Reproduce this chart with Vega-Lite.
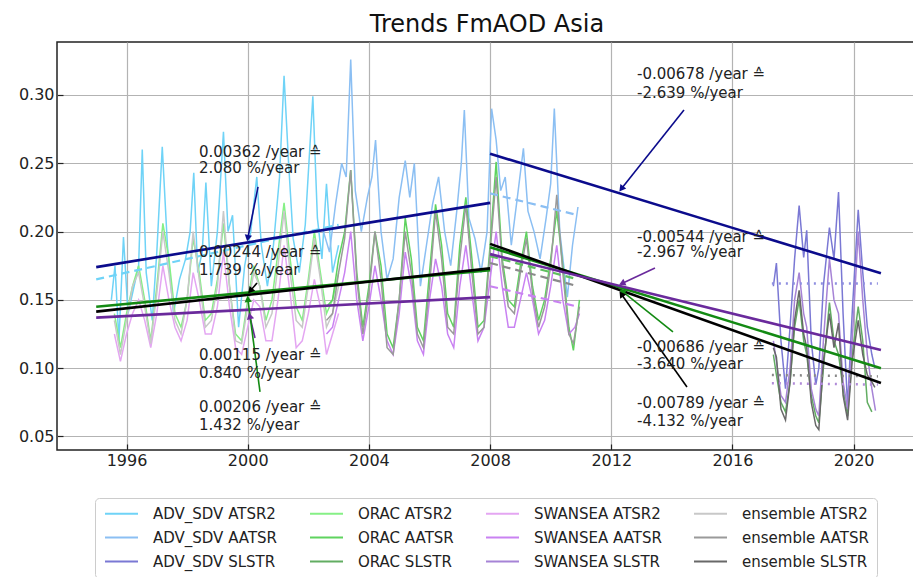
{
"$schema": "https://vega.github.io/schema/vega-lite/v6.json",
"width": 860, "height": 408,
"autosize": {"type": "none"},
"padding": {"left": 57, "top": 42, "right": 0, "bottom": 127},
"title": {"text": "Trends FmAOD Asia", "fontSize": 24, "font": "DejaVu Sans", "fontWeight": "normal", "color": "#111", "anchor": "middle", "offset": -14, "baseline": "alphabetic"},
"config": {
  "view": {"stroke": "#222", "strokeWidth": 1.5},
  "font": "DejaVu Sans",
  "axis": {"grid": true, "gridColor": "#b3b3b3", "gridWidth": 1.2, "domain": false, "tickColor": "#222", "tickSize": -6, "tickWidth": 1.2, "labelFontSize": 16, "labelColor": "#222", "labelFont": "DejaVu Sans", "title": null},
  "axisX": {"labelPadding": 8},
  "axisY": {"labelPadding": 9}
},
"datasets": {
"series": [
{"s":"ADV_SDV ATSR2","t":1995.50,"v":0.150},{"s":"ADV_SDV ATSR2","t":1995.62,"v":0.175},{"s":"ADV_SDV ATSR2","t":1995.75,"v":0.120},{"s":"ADV_SDV ATSR2","t":1995.90,"v":0.196},{"s":"ADV_SDV ATSR2","t":1996.05,"v":0.140},{"s":"ADV_SDV ATSR2","t":1996.25,"v":0.160},{"s":"ADV_SDV ATSR2","t":1996.40,"v":0.175},{"s":"ADV_SDV ATSR2","t":1996.52,"v":0.260},{"s":"ADV_SDV ATSR2","t":1996.65,"v":0.170},{"s":"ADV_SDV ATSR2","t":1996.85,"v":0.135},{"s":"ADV_SDV ATSR2","t":1997.00,"v":0.185},{"s":"ADV_SDV ATSR2","t":1997.18,"v":0.262},{"s":"ADV_SDV ATSR2","t":1997.35,"v":0.190},{"s":"ADV_SDV ATSR2","t":1997.55,"v":0.140},{"s":"ADV_SDV ATSR2","t":1997.75,"v":0.165},{"s":"ADV_SDV ATSR2","t":1997.95,"v":0.180},{"s":"ADV_SDV ATSR2","t":1998.10,"v":0.200},{"s":"ADV_SDV ATSR2","t":1998.22,"v":0.243},{"s":"ADV_SDV ATSR2","t":1998.35,"v":0.170},{"s":"ADV_SDV ATSR2","t":1998.50,"v":0.185},{"s":"ADV_SDV ATSR2","t":1998.62,"v":0.236},{"s":"ADV_SDV ATSR2","t":1998.80,"v":0.160},{"s":"ADV_SDV ATSR2","t":1999.00,"v":0.200},{"s":"ADV_SDV ATSR2","t":1999.20,"v":0.273},{"s":"ADV_SDV ATSR2","t":1999.35,"v":0.200},{"s":"ADV_SDV ATSR2","t":1999.50,"v":0.212},{"s":"ADV_SDV ATSR2","t":1999.70,"v":0.130},{"s":"ADV_SDV ATSR2","t":1999.90,"v":0.175},{"s":"ADV_SDV ATSR2","t":2000.10,"v":0.200},{"s":"ADV_SDV ATSR2","t":2000.30,"v":0.240},{"s":"ADV_SDV ATSR2","t":2000.45,"v":0.190},{"s":"ADV_SDV ATSR2","t":2000.65,"v":0.160},{"s":"ADV_SDV ATSR2","t":2000.85,"v":0.190},{"s":"ADV_SDV ATSR2","t":2001.05,"v":0.240},{"s":"ADV_SDV ATSR2","t":2001.20,"v":0.314},{"s":"ADV_SDV ATSR2","t":2001.35,"v":0.250},{"s":"ADV_SDV ATSR2","t":2001.50,"v":0.195},{"s":"ADV_SDV ATSR2","t":2001.70,"v":0.170},{"s":"ADV_SDV ATSR2","t":2001.90,"v":0.205},{"s":"ADV_SDV ATSR2","t":2002.15,"v":0.299},{"s":"ADV_SDV ATSR2","t":2002.30,"v":0.210},{"s":"ADV_SDV ATSR2","t":2002.45,"v":0.180},{"s":"ADV_SDV ATSR2","t":2002.60,"v":0.235},{"s":"ADV_SDV ATSR2","t":2002.80,"v":0.170},{"s":"ADV_SDV ATSR2","t":2003.00,"v":0.190},
{"s":"ADV_SDV AATSR","t":2002.50,"v":0.200},{"s":"ADV_SDV AATSR","t":2002.70,"v":0.185},{"s":"ADV_SDV AATSR","t":2002.90,"v":0.220},{"s":"ADV_SDV AATSR","t":2003.10,"v":0.250},{"s":"ADV_SDV AATSR","t":2003.25,"v":0.240},{"s":"ADV_SDV AATSR","t":2003.40,"v":0.326},{"s":"ADV_SDV AATSR","t":2003.55,"v":0.230},{"s":"ADV_SDV AATSR","t":2003.75,"v":0.200},{"s":"ADV_SDV AATSR","t":2003.95,"v":0.225},{"s":"ADV_SDV AATSR","t":2004.10,"v":0.240},{"s":"ADV_SDV AATSR","t":2004.22,"v":0.267},{"s":"ADV_SDV AATSR","t":2004.40,"v":0.200},{"s":"ADV_SDV AATSR","t":2004.60,"v":0.165},{"s":"ADV_SDV AATSR","t":2004.80,"v":0.180},{"s":"ADV_SDV AATSR","t":2005.00,"v":0.225},{"s":"ADV_SDV AATSR","t":2005.20,"v":0.252},{"s":"ADV_SDV AATSR","t":2005.35,"v":0.225},{"s":"ADV_SDV AATSR","t":2005.50,"v":0.250},{"s":"ADV_SDV AATSR","t":2005.70,"v":0.160},{"s":"ADV_SDV AATSR","t":2005.90,"v":0.190},{"s":"ADV_SDV AATSR","t":2006.10,"v":0.220},{"s":"ADV_SDV AATSR","t":2006.30,"v":0.240},{"s":"ADV_SDV AATSR","t":2006.50,"v":0.200},{"s":"ADV_SDV AATSR","t":2006.70,"v":0.175},{"s":"ADV_SDV AATSR","t":2006.90,"v":0.215},{"s":"ADV_SDV AATSR","t":2007.05,"v":0.250},{"s":"ADV_SDV AATSR","t":2007.15,"v":0.289},{"s":"ADV_SDV AATSR","t":2007.30,"v":0.210},{"s":"ADV_SDV AATSR","t":2007.50,"v":0.195},{"s":"ADV_SDV AATSR","t":2007.70,"v":0.170},{"s":"ADV_SDV AATSR","t":2007.90,"v":0.200},{"s":"ADV_SDV AATSR","t":2008.05,"v":0.290},{"s":"ADV_SDV AATSR","t":2008.20,"v":0.267},{"s":"ADV_SDV AATSR","t":2008.35,"v":0.230},{"s":"ADV_SDV AATSR","t":2008.50,"v":0.240},{"s":"ADV_SDV AATSR","t":2008.70,"v":0.190},{"s":"ADV_SDV AATSR","t":2008.90,"v":0.225},{"s":"ADV_SDV AATSR","t":2009.10,"v":0.261},{"s":"ADV_SDV AATSR","t":2009.25,"v":0.215},{"s":"ADV_SDV AATSR","t":2009.45,"v":0.200},{"s":"ADV_SDV AATSR","t":2009.65,"v":0.180},{"s":"ADV_SDV AATSR","t":2009.85,"v":0.210},{"s":"ADV_SDV AATSR","t":2010.00,"v":0.235},{"s":"ADV_SDV AATSR","t":2010.12,"v":0.290},{"s":"ADV_SDV AATSR","t":2010.30,"v":0.200},{"s":"ADV_SDV AATSR","t":2010.55,"v":0.152},{"s":"ADV_SDV AATSR","t":2010.72,"v":0.190},{"s":"ADV_SDV AATSR","t":2010.90,"v":0.218},
{"s":"ADV_SDV SLSTR","t":2017.35,"v":0.160},{"s":"ADV_SDV SLSTR","t":2017.45,"v":0.177},{"s":"ADV_SDV SLSTR","t":2017.60,"v":0.120},{"s":"ADV_SDV SLSTR","t":2017.75,"v":0.085},{"s":"ADV_SDV SLSTR","t":2017.90,"v":0.130},{"s":"ADV_SDV SLSTR","t":2018.05,"v":0.180},{"s":"ADV_SDV SLSTR","t":2018.20,"v":0.219},{"s":"ADV_SDV SLSTR","t":2018.35,"v":0.181},{"s":"ADV_SDV SLSTR","t":2018.45,"v":0.201},{"s":"ADV_SDV SLSTR","t":2018.60,"v":0.120},{"s":"ADV_SDV SLSTR","t":2018.75,"v":0.088},{"s":"ADV_SDV SLSTR","t":2018.85,"v":0.100},{"s":"ADV_SDV SLSTR","t":2019.00,"v":0.160},{"s":"ADV_SDV SLSTR","t":2019.20,"v":0.203},{"s":"ADV_SDV SLSTR","t":2019.35,"v":0.180},{"s":"ADV_SDV SLSTR","t":2019.50,"v":0.229},{"s":"ADV_SDV SLSTR","t":2019.65,"v":0.140},{"s":"ADV_SDV SLSTR","t":2019.80,"v":0.072},{"s":"ADV_SDV SLSTR","t":2019.95,"v":0.140},{"s":"ADV_SDV SLSTR","t":2020.15,"v":0.216},{"s":"ADV_SDV SLSTR","t":2020.30,"v":0.170},{"s":"ADV_SDV SLSTR","t":2020.45,"v":0.130},{"s":"ADV_SDV SLSTR","t":2020.60,"v":0.110},{"s":"ADV_SDV SLSTR","t":2020.70,"v":0.100},
{"s":"ORAC ATSR2","t":1995.6,"v":0.140},{"s":"ORAC ATSR2","t":1995.8,"v":0.115},{"s":"ORAC ATSR2","t":1996.0,"v":0.140},{"s":"ORAC ATSR2","t":1996.2,"v":0.160},{"s":"ORAC ATSR2","t":1996.4,"v":0.175},{"s":"ORAC ATSR2","t":1996.6,"v":0.150},{"s":"ORAC ATSR2","t":1996.8,"v":0.120},{"s":"ORAC ATSR2","t":1997.0,"v":0.160},{"s":"ORAC ATSR2","t":1997.2,"v":0.206},{"s":"ORAC ATSR2","t":1997.4,"v":0.180},{"s":"ORAC ATSR2","t":1997.6,"v":0.140},{"s":"ORAC ATSR2","t":1997.8,"v":0.130},{"s":"ORAC ATSR2","t":1998.0,"v":0.150},{"s":"ORAC ATSR2","t":1998.2,"v":0.195},{"s":"ORAC ATSR2","t":1998.4,"v":0.170},{"s":"ORAC ATSR2","t":1998.6,"v":0.135},{"s":"ORAC ATSR2","t":1998.8,"v":0.140},{"s":"ORAC ATSR2","t":1999.0,"v":0.165},{"s":"ORAC ATSR2","t":1999.2,"v":0.206},{"s":"ORAC ATSR2","t":1999.4,"v":0.160},{"s":"ORAC ATSR2","t":1999.6,"v":0.125},{"s":"ORAC ATSR2","t":1999.8,"v":0.120},{"s":"ORAC ATSR2","t":2000.0,"v":0.150},{"s":"ORAC ATSR2","t":2000.2,"v":0.175},{"s":"ORAC ATSR2","t":2000.4,"v":0.160},{"s":"ORAC ATSR2","t":2000.6,"v":0.135},{"s":"ORAC ATSR2","t":2000.8,"v":0.150},{"s":"ORAC ATSR2","t":2001.0,"v":0.185},{"s":"ORAC ATSR2","t":2001.2,"v":0.221},{"s":"ORAC ATSR2","t":2001.4,"v":0.180},{"s":"ORAC ATSR2","t":2001.6,"v":0.145},{"s":"ORAC ATSR2","t":2001.8,"v":0.135},{"s":"ORAC ATSR2","t":2002.0,"v":0.165},{"s":"ORAC ATSR2","t":2002.2,"v":0.200},{"s":"ORAC ATSR2","t":2002.4,"v":0.170},{"s":"ORAC ATSR2","t":2002.6,"v":0.140},{"s":"ORAC ATSR2","t":2002.8,"v":0.150},{"s":"ORAC ATSR2","t":2003.0,"v":0.170},
{"s":"ORAC AATSR","t":2002.6,"v":0.145},{"s":"ORAC AATSR","t":2002.8,"v":0.150},{"s":"ORAC AATSR","t":2003.0,"v":0.180},{"s":"ORAC AATSR","t":2003.2,"v":0.200},{"s":"ORAC AATSR","t":2003.4,"v":0.245},{"s":"ORAC AATSR","t":2003.6,"v":0.170},{"s":"ORAC AATSR","t":2003.8,"v":0.130},{"s":"ORAC AATSR","t":2004.0,"v":0.160},{"s":"ORAC AATSR","t":2004.2,"v":0.200},{"s":"ORAC AATSR","t":2004.4,"v":0.175},{"s":"ORAC AATSR","t":2004.6,"v":0.125},{"s":"ORAC AATSR","t":2004.8,"v":0.115},{"s":"ORAC AATSR","t":2005.0,"v":0.150},{"s":"ORAC AATSR","t":2005.2,"v":0.210},{"s":"ORAC AATSR","t":2005.4,"v":0.180},{"s":"ORAC AATSR","t":2005.6,"v":0.130},{"s":"ORAC AATSR","t":2005.8,"v":0.120},{"s":"ORAC AATSR","t":2006.0,"v":0.170},{"s":"ORAC AATSR","t":2006.2,"v":0.220},{"s":"ORAC AATSR","t":2006.4,"v":0.190},{"s":"ORAC AATSR","t":2006.6,"v":0.140},{"s":"ORAC AATSR","t":2006.8,"v":0.130},{"s":"ORAC AATSR","t":2007.0,"v":0.190},{"s":"ORAC AATSR","t":2007.2,"v":0.225},{"s":"ORAC AATSR","t":2007.4,"v":0.180},{"s":"ORAC AATSR","t":2007.6,"v":0.130},{"s":"ORAC AATSR","t":2007.8,"v":0.135},{"s":"ORAC AATSR","t":2008.0,"v":0.190},{"s":"ORAC AATSR","t":2008.2,"v":0.251},{"s":"ORAC AATSR","t":2008.4,"v":0.180},{"s":"ORAC AATSR","t":2008.6,"v":0.150},{"s":"ORAC AATSR","t":2008.8,"v":0.145},{"s":"ORAC AATSR","t":2009.0,"v":0.175},{"s":"ORAC AATSR","t":2009.2,"v":0.200},{"s":"ORAC AATSR","t":2009.4,"v":0.160},{"s":"ORAC AATSR","t":2009.6,"v":0.135},{"s":"ORAC AATSR","t":2009.8,"v":0.150},{"s":"ORAC AATSR","t":2010.0,"v":0.180},{"s":"ORAC AATSR","t":2010.2,"v":0.215},{"s":"ORAC AATSR","t":2010.4,"v":0.175},{"s":"ORAC AATSR","t":2010.6,"v":0.130},{"s":"ORAC AATSR","t":2010.75,"v":0.113},{"s":"ORAC AATSR","t":2010.95,"v":0.150},
{"s":"ORAC SLSTR","t":2017.35,"v":0.110},{"s":"ORAC SLSTR","t":2017.45,"v":0.095},{"s":"ORAC SLSTR","t":2017.60,"v":0.075},{"s":"ORAC SLSTR","t":2017.75,"v":0.068},{"s":"ORAC SLSTR","t":2017.90,"v":0.090},{"s":"ORAC SLSTR","t":2018.05,"v":0.130},{"s":"ORAC SLSTR","t":2018.20,"v":0.150},{"s":"ORAC SLSTR","t":2018.35,"v":0.120},{"s":"ORAC SLSTR","t":2018.45,"v":0.110},{"s":"ORAC SLSTR","t":2018.60,"v":0.080},{"s":"ORAC SLSTR","t":2018.75,"v":0.065},{"s":"ORAC SLSTR","t":2018.85,"v":0.060},{"s":"ORAC SLSTR","t":2019.00,"v":0.100},{"s":"ORAC SLSTR","t":2019.20,"v":0.148},{"s":"ORAC SLSTR","t":2019.35,"v":0.120},{"s":"ORAC SLSTR","t":2019.50,"v":0.110},{"s":"ORAC SLSTR","t":2019.65,"v":0.085},{"s":"ORAC SLSTR","t":2019.80,"v":0.065},{"s":"ORAC SLSTR","t":2019.95,"v":0.110},{"s":"ORAC SLSTR","t":2020.15,"v":0.145},{"s":"ORAC SLSTR","t":2020.30,"v":0.120},{"s":"ORAC SLSTR","t":2020.45,"v":0.075},{"s":"ORAC SLSTR","t":2020.60,"v":0.068},
{"s":"SWANSEA ATSR2","t":1995.6,"v":0.125},{"s":"SWANSEA ATSR2","t":1995.8,"v":0.105},{"s":"SWANSEA ATSR2","t":1996.0,"v":0.125},{"s":"SWANSEA ATSR2","t":1996.2,"v":0.140},{"s":"SWANSEA ATSR2","t":1996.4,"v":0.150},{"s":"SWANSEA ATSR2","t":1996.6,"v":0.135},{"s":"SWANSEA ATSR2","t":1996.8,"v":0.115},{"s":"SWANSEA ATSR2","t":1997.0,"v":0.140},{"s":"SWANSEA ATSR2","t":1997.2,"v":0.175},{"s":"SWANSEA ATSR2","t":1997.4,"v":0.150},{"s":"SWANSEA ATSR2","t":1997.6,"v":0.130},{"s":"SWANSEA ATSR2","t":1997.8,"v":0.120},{"s":"SWANSEA ATSR2","t":1998.0,"v":0.135},{"s":"SWANSEA ATSR2","t":1998.2,"v":0.170},{"s":"SWANSEA ATSR2","t":1998.4,"v":0.150},{"s":"SWANSEA ATSR2","t":1998.6,"v":0.125},{"s":"SWANSEA ATSR2","t":1998.8,"v":0.125},{"s":"SWANSEA ATSR2","t":1999.0,"v":0.145},{"s":"SWANSEA ATSR2","t":1999.2,"v":0.185},{"s":"SWANSEA ATSR2","t":1999.4,"v":0.145},{"s":"SWANSEA ATSR2","t":1999.6,"v":0.115},{"s":"SWANSEA ATSR2","t":1999.8,"v":0.110},{"s":"SWANSEA ATSR2","t":2000.0,"v":0.130},{"s":"SWANSEA ATSR2","t":2000.2,"v":0.150},{"s":"SWANSEA ATSR2","t":2000.4,"v":0.145},{"s":"SWANSEA ATSR2","t":2000.6,"v":0.120},{"s":"SWANSEA ATSR2","t":2000.8,"v":0.120},{"s":"SWANSEA ATSR2","t":2001.0,"v":0.150},{"s":"SWANSEA ATSR2","t":2001.2,"v":0.190},{"s":"SWANSEA ATSR2","t":2001.4,"v":0.155},{"s":"SWANSEA ATSR2","t":2001.6,"v":0.115},{"s":"SWANSEA ATSR2","t":2001.8,"v":0.120},{"s":"SWANSEA ATSR2","t":2002.0,"v":0.140},{"s":"SWANSEA ATSR2","t":2002.2,"v":0.165},{"s":"SWANSEA ATSR2","t":2002.4,"v":0.145},{"s":"SWANSEA ATSR2","t":2002.6,"v":0.110},{"s":"SWANSEA ATSR2","t":2002.8,"v":0.125},{"s":"SWANSEA ATSR2","t":2003.0,"v":0.140},
{"s":"SWANSEA AATSR","t":2002.6,"v":0.125},{"s":"SWANSEA AATSR","t":2002.8,"v":0.130},{"s":"SWANSEA AATSR","t":2003.0,"v":0.150},{"s":"SWANSEA AATSR","t":2003.2,"v":0.170},{"s":"SWANSEA AATSR","t":2003.4,"v":0.200},{"s":"SWANSEA AATSR","t":2003.6,"v":0.150},{"s":"SWANSEA AATSR","t":2003.8,"v":0.120},{"s":"SWANSEA AATSR","t":2004.0,"v":0.145},{"s":"SWANSEA AATSR","t":2004.2,"v":0.175},{"s":"SWANSEA AATSR","t":2004.4,"v":0.150},{"s":"SWANSEA AATSR","t":2004.6,"v":0.120},{"s":"SWANSEA AATSR","t":2004.8,"v":0.110},{"s":"SWANSEA AATSR","t":2005.0,"v":0.140},{"s":"SWANSEA AATSR","t":2005.2,"v":0.185},{"s":"SWANSEA AATSR","t":2005.4,"v":0.160},{"s":"SWANSEA AATSR","t":2005.6,"v":0.120},{"s":"SWANSEA AATSR","t":2005.8,"v":0.110},{"s":"SWANSEA AATSR","t":2006.0,"v":0.150},{"s":"SWANSEA AATSR","t":2006.2,"v":0.180},{"s":"SWANSEA AATSR","t":2006.4,"v":0.160},{"s":"SWANSEA AATSR","t":2006.6,"v":0.125},{"s":"SWANSEA AATSR","t":2006.8,"v":0.115},{"s":"SWANSEA AATSR","t":2007.0,"v":0.160},{"s":"SWANSEA AATSR","t":2007.2,"v":0.190},{"s":"SWANSEA AATSR","t":2007.4,"v":0.155},{"s":"SWANSEA AATSR","t":2007.6,"v":0.120},{"s":"SWANSEA AATSR","t":2007.8,"v":0.130},{"s":"SWANSEA AATSR","t":2008.0,"v":0.165},{"s":"SWANSEA AATSR","t":2008.2,"v":0.200},{"s":"SWANSEA AATSR","t":2008.4,"v":0.160},{"s":"SWANSEA AATSR","t":2008.6,"v":0.130},{"s":"SWANSEA AATSR","t":2008.8,"v":0.130},{"s":"SWANSEA AATSR","t":2009.0,"v":0.150},{"s":"SWANSEA AATSR","t":2009.2,"v":0.170},{"s":"SWANSEA AATSR","t":2009.4,"v":0.150},{"s":"SWANSEA AATSR","t":2009.6,"v":0.125},{"s":"SWANSEA AATSR","t":2009.8,"v":0.135},{"s":"SWANSEA AATSR","t":2010.0,"v":0.160},{"s":"SWANSEA AATSR","t":2010.2,"v":0.190},{"s":"SWANSEA AATSR","t":2010.4,"v":0.150},{"s":"SWANSEA AATSR","t":2010.6,"v":0.125},{"s":"SWANSEA AATSR","t":2010.8,"v":0.130},{"s":"SWANSEA AATSR","t":2010.95,"v":0.140},
{"s":"SWANSEA SLSTR","t":2017.35,"v":0.120},{"s":"SWANSEA SLSTR","t":2017.45,"v":0.105},{"s":"SWANSEA SLSTR","t":2017.60,"v":0.080},{"s":"SWANSEA SLSTR","t":2017.75,"v":0.075},{"s":"SWANSEA SLSTR","t":2017.90,"v":0.100},{"s":"SWANSEA SLSTR","t":2018.05,"v":0.150},{"s":"SWANSEA SLSTR","t":2018.20,"v":0.170},{"s":"SWANSEA SLSTR","t":2018.35,"v":0.140},{"s":"SWANSEA SLSTR","t":2018.45,"v":0.130},{"s":"SWANSEA SLSTR","t":2018.60,"v":0.085},{"s":"SWANSEA SLSTR","t":2018.75,"v":0.070},{"s":"SWANSEA SLSTR","t":2018.85,"v":0.065},{"s":"SWANSEA SLSTR","t":2019.00,"v":0.120},{"s":"SWANSEA SLSTR","t":2019.20,"v":0.180},{"s":"SWANSEA SLSTR","t":2019.35,"v":0.150},{"s":"SWANSEA SLSTR","t":2019.50,"v":0.140},{"s":"SWANSEA SLSTR","t":2019.65,"v":0.090},{"s":"SWANSEA SLSTR","t":2019.80,"v":0.070},{"s":"SWANSEA SLSTR","t":2019.95,"v":0.120},{"s":"SWANSEA SLSTR","t":2020.15,"v":0.200},{"s":"SWANSEA SLSTR","t":2020.30,"v":0.150},{"s":"SWANSEA SLSTR","t":2020.45,"v":0.110},{"s":"SWANSEA SLSTR","t":2020.60,"v":0.085},{"s":"SWANSEA SLSTR","t":2020.72,"v":0.069},
{"s":"ensemble ATSR2","t":1995.6,"v":0.135},{"s":"ensemble ATSR2","t":1995.8,"v":0.110},{"s":"ensemble ATSR2","t":1996.0,"v":0.135},{"s":"ensemble ATSR2","t":1996.2,"v":0.160},{"s":"ensemble ATSR2","t":1996.4,"v":0.170},{"s":"ensemble ATSR2","t":1996.6,"v":0.145},{"s":"ensemble ATSR2","t":1996.8,"v":0.118},{"s":"ensemble ATSR2","t":1997.0,"v":0.155},{"s":"ensemble ATSR2","t":1997.2,"v":0.200},{"s":"ensemble ATSR2","t":1997.4,"v":0.170},{"s":"ensemble ATSR2","t":1997.6,"v":0.135},{"s":"ensemble ATSR2","t":1997.8,"v":0.125},{"s":"ensemble ATSR2","t":1998.0,"v":0.150},{"s":"ensemble ATSR2","t":1998.2,"v":0.200},{"s":"ensemble ATSR2","t":1998.4,"v":0.165},{"s":"ensemble ATSR2","t":1998.6,"v":0.130},{"s":"ensemble ATSR2","t":1998.8,"v":0.135},{"s":"ensemble ATSR2","t":1999.0,"v":0.160},{"s":"ensemble ATSR2","t":1999.2,"v":0.215},{"s":"ensemble ATSR2","t":1999.4,"v":0.160},{"s":"ensemble ATSR2","t":1999.6,"v":0.120},{"s":"ensemble ATSR2","t":1999.8,"v":0.118},{"s":"ensemble ATSR2","t":2000.0,"v":0.145},{"s":"ensemble ATSR2","t":2000.2,"v":0.170},{"s":"ensemble ATSR2","t":2000.4,"v":0.160},{"s":"ensemble ATSR2","t":2000.6,"v":0.130},{"s":"ensemble ATSR2","t":2000.8,"v":0.140},{"s":"ensemble ATSR2","t":2001.0,"v":0.175},{"s":"ensemble ATSR2","t":2001.2,"v":0.215},{"s":"ensemble ATSR2","t":2001.4,"v":0.170},{"s":"ensemble ATSR2","t":2001.6,"v":0.135},{"s":"ensemble ATSR2","t":2001.8,"v":0.130},{"s":"ensemble ATSR2","t":2002.0,"v":0.160},{"s":"ensemble ATSR2","t":2002.2,"v":0.195},{"s":"ensemble ATSR2","t":2002.4,"v":0.165},{"s":"ensemble ATSR2","t":2002.6,"v":0.130},{"s":"ensemble ATSR2","t":2002.8,"v":0.140},{"s":"ensemble ATSR2","t":2003.0,"v":0.160},
{"s":"ensemble AATSR","t":2002.6,"v":0.135},{"s":"ensemble AATSR","t":2002.8,"v":0.140},{"s":"ensemble AATSR","t":2003.0,"v":0.170},{"s":"ensemble AATSR","t":2003.2,"v":0.195},{"s":"ensemble AATSR","t":2003.4,"v":0.245},{"s":"ensemble AATSR","t":2003.6,"v":0.165},{"s":"ensemble AATSR","t":2003.8,"v":0.125},{"s":"ensemble AATSR","t":2004.0,"v":0.155},{"s":"ensemble AATSR","t":2004.2,"v":0.200},{"s":"ensemble AATSR","t":2004.4,"v":0.165},{"s":"ensemble AATSR","t":2004.6,"v":0.115},{"s":"ensemble AATSR","t":2004.8,"v":0.110},{"s":"ensemble AATSR","t":2005.0,"v":0.150},{"s":"ensemble AATSR","t":2005.2,"v":0.200},{"s":"ensemble AATSR","t":2005.4,"v":0.170},{"s":"ensemble AATSR","t":2005.6,"v":0.125},{"s":"ensemble AATSR","t":2005.8,"v":0.115},{"s":"ensemble AATSR","t":2006.0,"v":0.160},{"s":"ensemble AATSR","t":2006.2,"v":0.215},{"s":"ensemble AATSR","t":2006.4,"v":0.180},{"s":"ensemble AATSR","t":2006.6,"v":0.130},{"s":"ensemble AATSR","t":2006.8,"v":0.125},{"s":"ensemble AATSR","t":2007.0,"v":0.180},{"s":"ensemble AATSR","t":2007.2,"v":0.220},{"s":"ensemble AATSR","t":2007.4,"v":0.170},{"s":"ensemble AATSR","t":2007.6,"v":0.125},{"s":"ensemble AATSR","t":2007.8,"v":0.130},{"s":"ensemble AATSR","t":2008.0,"v":0.185},{"s":"ensemble AATSR","t":2008.2,"v":0.240},{"s":"ensemble AATSR","t":2008.4,"v":0.175},{"s":"ensemble AATSR","t":2008.6,"v":0.145},{"s":"ensemble AATSR","t":2008.8,"v":0.140},{"s":"ensemble AATSR","t":2009.0,"v":0.170},{"s":"ensemble AATSR","t":2009.2,"v":0.195},{"s":"ensemble AATSR","t":2009.4,"v":0.155},{"s":"ensemble AATSR","t":2009.6,"v":0.130},{"s":"ensemble AATSR","t":2009.8,"v":0.145},{"s":"ensemble AATSR","t":2010.0,"v":0.175},{"s":"ensemble AATSR","t":2010.2,"v":0.227},{"s":"ensemble AATSR","t":2010.4,"v":0.170},{"s":"ensemble AATSR","t":2010.6,"v":0.125},{"s":"ensemble AATSR","t":2010.75,"v":0.118},{"s":"ensemble AATSR","t":2010.95,"v":0.145},
{"s":"ensemble SLSTR","t":2017.35,"v":0.115},{"s":"ensemble SLSTR","t":2017.45,"v":0.108},{"s":"ensemble SLSTR","t":2017.60,"v":0.070},{"s":"ensemble SLSTR","t":2017.75,"v":0.062},{"s":"ensemble SLSTR","t":2017.90,"v":0.090},{"s":"ensemble SLSTR","t":2018.05,"v":0.135},{"s":"ensemble SLSTR","t":2018.20,"v":0.157},{"s":"ensemble SLSTR","t":2018.35,"v":0.125},{"s":"ensemble SLSTR","t":2018.45,"v":0.115},{"s":"ensemble SLSTR","t":2018.60,"v":0.075},{"s":"ensemble SLSTR","t":2018.75,"v":0.058},{"s":"ensemble SLSTR","t":2018.85,"v":0.055},{"s":"ensemble SLSTR","t":2019.00,"v":0.105},{"s":"ensemble SLSTR","t":2019.20,"v":0.140},{"s":"ensemble SLSTR","t":2019.35,"v":0.115},{"s":"ensemble SLSTR","t":2019.50,"v":0.133},{"s":"ensemble SLSTR","t":2019.65,"v":0.080},{"s":"ensemble SLSTR","t":2019.80,"v":0.062},{"s":"ensemble SLSTR","t":2019.95,"v":0.105},{"s":"ensemble SLSTR","t":2020.15,"v":0.135},{"s":"ensemble SLSTR","t":2020.30,"v":0.110},{"s":"ensemble SLSTR","t":2020.45,"v":0.095},{"s":"ensemble SLSTR","t":2020.60,"v":0.090},{"s":"ensemble SLSTR","t":2020.70,"v":0.086}
],
"trend": [
{"g":"ADV","p":1,"t":1995.0,"v":0.174},{"g":"ADV","p":1,"t":2008.0,"v":0.221},
{"g":"ADV","p":2,"t":2008.0,"v":0.257},{"g":"ADV","p":2,"t":2020.9,"v":0.1695},
{"g":"ORAC","p":1,"t":1995.0,"v":0.145},{"g":"ORAC","p":1,"t":2008.0,"v":0.1718},
{"g":"ORAC","p":2,"t":2008.0,"v":0.1885},{"g":"ORAC","p":2,"t":2020.9,"v":0.100},
{"g":"ensemble","p":1,"t":1995.0,"v":0.1414},{"g":"ensemble","p":1,"t":2008.0,"v":0.1731},
{"g":"ensemble","p":2,"t":2008.0,"v":0.191},{"g":"ensemble","p":2,"t":2020.9,"v":0.0892},
{"g":"SWANSEA","p":1,"t":1995.0,"v":0.137},{"g":"SWANSEA","p":1,"t":2008.0,"v":0.152},
{"g":"SWANSEA","p":2,"t":2008.0,"v":0.1835},{"g":"SWANSEA","p":2,"t":2020.9,"v":0.1133}
],
"dashed": [
{"g":"ADV ATSR2 sub","t":1995.0,"v":0.165},{"g":"ADV ATSR2 sub","t":2003.0,"v":0.205},
{"g":"ADV AATSR sub","t":2008.0,"v":0.228},{"g":"ADV AATSR sub","t":2010.9,"v":0.212},
{"g":"ORAC AATSR sub","t":2008.0,"v":0.182},{"g":"ORAC AATSR sub","t":2010.9,"v":0.165},
{"g":"ensemble AATSR sub","t":2008.0,"v":0.177},{"g":"ensemble AATSR sub","t":2010.9,"v":0.160},
{"g":"SWANSEA AATSR sub","t":2008.0,"v":0.160},{"g":"SWANSEA AATSR sub","t":2010.9,"v":0.145}
],
"dotted": [
{"g":"ADV SLSTR sub","t":2017.3,"v":0.162},{"g":"ADV SLSTR sub","t":2020.8,"v":0.162},
{"g":"ensemble SLSTR sub","t":2017.3,"v":0.095},{"g":"ensemble SLSTR sub","t":2020.8,"v":0.094},
{"g":"SWANSEA SLSTR sub","t":2017.3,"v":0.089},{"g":"SWANSEA SLSTR sub","t":2020.8,"v":0.088}
],
"arrows": [
{"a":1,"g":"ADV","t":2000.340,"v":0.2327,"t2":2000.010,"v2":0.1960},
{"a":2,"g":"ensemble","t":2000.307,"v":0.1624,"t2":2000.109,"v2":0.1572},
{"a":3,"g":"SWANSEA","t":2000.241,"v":0.1221,"t2":2000.076,"v2":0.1375},
{"a":4,"g":"ORAC","t":2000.406,"v":0.0826,"t2":2000.010,"v2":0.1499},
{"a":5,"g":"ADV","t":2014.399,"v":0.2890,"t2":2012.353,"v2":0.2319},
{"a":6,"g":"SWANSEA","t":2013.442,"v":0.1734,"t2":2012.386,"v2":0.1624},
{"a":7,"g":"ORAC","t":2014.036,"v":0.1265,"t2":2012.386,"v2":0.1558},
{"a":8,"g":"ensemble","t":2014.498,"v":0.0862,"t2":2012.353,"v2":0.1536}
],
"notes": [
{"t":1998.39,"v":0.2585,"label":"0.00362 /year ≙"},{"t":1998.39,"v":0.2464,"label":"2.080 %/year"},
{"t":1998.39,"v":0.1853,"label":"0.00244 /year ≙"},{"t":1998.39,"v":0.1719,"label":"1.739 %/year"},
{"t":1998.39,"v":0.1097,"label":"0.00115 /year ≙"},{"t":1998.39,"v":0.0967,"label":"0.840 %/year"},
{"t":1998.39,"v":0.0718,"label":"0.00206 /year ≙"},{"t":1998.39,"v":0.0584,"label":"1.432 %/year"},
{"t":2012.85,"v":0.3152,"label":"-0.00678 /year ≙"},{"t":2012.85,"v":0.3012,"label":"-2.639 %/year"},
{"t":2012.85,"v":0.1963,"label":"-0.00544 /year ≙"},{"t":2012.85,"v":0.1849,"label":"-2.967 %/year"},
{"t":2012.85,"v":0.1157,"label":"-0.00686 /year ≙"},{"t":2012.85,"v":0.1029,"label":"-3.640 %/year"},
{"t":2012.85,"v":0.0743,"label":"-0.00789 /year ≙"},{"t":2012.85,"v":0.0613,"label":"-4.132 %/year"}
]
},
"encoding": {
  "x": {"field": "t", "type": "quantitative", "scale": {"domain": [1993.706, 2022.09], "nice": false, "zero": false}, "axis": {"values": [1996, 2000, 2004, 2008, 2012, 2016, 2020], "format": "d"}},
  "y": {"field": "v", "type": "quantitative", "scale": {"domain": [0.0401, 0.3388], "nice": false, "zero": false}, "axis": {"values": [0.05, 0.1, 0.15, 0.2, 0.25, 0.3], "format": ".2f"}}
},
"layer": [
{"data": {"name": "series"}, "mark": {"type": "line", "strokeWidth": 1.5, "clip": true},
 "encoding": {"color": {"field": "s", "type": "nominal",
   "scale": {"domain": ["ADV_SDV ATSR2","ORAC ATSR2","SWANSEA ATSR2","ensemble ATSR2","ADV_SDV AATSR","ORAC AATSR","SWANSEA AATSR","ensemble AATSR","ADV_SDV SLSTR","ORAC SLSTR","SWANSEA SLSTR","ensemble SLSTR"],
             "range": ["#6fd3f7","#86f086","#e4a6f2","#c8c8c8","#8bbff3","#5fd35f","#c982f2","#9a9a9a","#7a78d4","#62ad62","#a683d6","#686868"]},
   "legend": {"orient": "none", "legendX": 38, "legendY": 456, "columns": 4, "direction": "horizontal", "title": null,
     "strokeColor": "#cccccc", "fillColor": "white", "cornerRadius": 4, "padding": 8,
     "symbolType": "M-1,0H5", "symbolSize": 121, "symbolStrokeWidth": 2, "labelFontSize": 15, "labelFont": "DejaVu Sans", "labelColor": "#222",
     "labelOffset": 35, "columnPadding": 28, "rowPadding": 8, "labelLimit": 300}},
   "detail": {"field": "s"}}},
{"data": {"name": "dashed"}, "mark": {"type": "line", "strokeWidth": 2.2, "strokeDash": [8, 5]},
 "encoding": {"stroke": {"field": "g", "type": "nominal", "legend": null,
   "scale": {"domain": ["ADV","ORAC","SWANSEA","ensemble","ADV ATSR2 sub","ADV AATSR sub","ORAC AATSR sub","ensemble AATSR sub","SWANSEA AATSR sub","ADV SLSTR sub","ensemble SLSTR sub","SWANSEA SLSTR sub"],
             "range": ["#0b0b8c","#138a13","#6a2a9c","#000000","#6fd3f7","#8bbff3","#5fbf5f","#8a8a8a","#c982f2","#8f8fe0","#888888","#b08ad8"]}}}},
{"data": {"name": "dotted"}, "mark": {"type": "line", "strokeWidth": 2.5, "strokeDash": [2, 5]},
 "encoding": {"stroke": {"field": "g", "type": "nominal", "legend": null}}},
{"data": {"name": "trend"}, "mark": {"type": "line", "strokeWidth": 2.6},
 "encoding": {"stroke": {"field": "g", "type": "nominal", "legend": null}, "detail": {"field": "p"}}},
{"data": {"name": "arrows"}, "mark": {"type": "rule", "strokeWidth": 1.6},
 "encoding": {"x2": {"field": "t2"}, "y2": {"field": "v2"}, "stroke": {"field": "g", "type": "nominal", "legend": null}}},
{"data": {"name": "arrows"}, "transform": [{"filter": "datum.a == 1"}], "mark": {"type": "point", "shape": "triangle", "angle": 191, "filled": true, "size": 55, "color": "#0b0b8c", "opacity": 1}, "encoding": {"x": {"field": "t2", "type": "quantitative"}, "y": {"field": "v2", "type": "quantitative"}}},
{"data": {"name": "arrows"}, "transform": [{"filter": "datum.a == 2"}], "mark": {"type": "point", "shape": "triangle", "angle": 221, "filled": true, "size": 55, "color": "#000000", "opacity": 1}, "encoding": {"x": {"field": "t2", "type": "quantitative"}, "y": {"field": "v2", "type": "quantitative"}}},
{"data": {"name": "arrows"}, "transform": [{"filter": "datum.a == 3"}], "mark": {"type": "point", "shape": "triangle", "angle": 347, "filled": true, "size": 55, "color": "#6a2a9c", "opacity": 1}, "encoding": {"x": {"field": "t2", "type": "quantitative"}, "y": {"field": "v2", "type": "quantitative"}}},
{"data": {"name": "arrows"}, "transform": [{"filter": "datum.a == 4"}], "mark": {"type": "point", "shape": "triangle", "angle": 353, "filled": true, "size": 55, "color": "#138a13", "opacity": 1}, "encoding": {"x": {"field": "t2", "type": "quantitative"}, "y": {"field": "v2", "type": "quantitative"}}},
{"data": {"name": "arrows"}, "transform": [{"filter": "datum.a == 5"}], "mark": {"type": "point", "shape": "triangle", "angle": 218, "filled": true, "size": 55, "color": "#0b0b8c", "opacity": 1}, "encoding": {"x": {"field": "t2", "type": "quantitative"}, "y": {"field": "v2", "type": "quantitative"}}},
{"data": {"name": "arrows"}, "transform": [{"filter": "datum.a == 6"}], "mark": {"type": "point", "shape": "triangle", "angle": 245, "filled": true, "size": 55, "color": "#6a2a9c", "opacity": 1}, "encoding": {"x": {"field": "t2", "type": "quantitative"}, "y": {"field": "v2", "type": "quantitative"}}},
{"data": {"name": "arrows"}, "transform": [{"filter": "datum.a == 7"}], "mark": {"type": "point", "shape": "triangle", "angle": 309, "filled": true, "size": 55, "color": "#138a13", "opacity": 1}, "encoding": {"x": {"field": "t2", "type": "quantitative"}, "y": {"field": "v2", "type": "quantitative"}}},
{"data": {"name": "arrows"}, "transform": [{"filter": "datum.a == 8"}], "mark": {"type": "point", "shape": "triangle", "angle": 325, "filled": true, "size": 55, "color": "#000000", "opacity": 1}, "encoding": {"x": {"field": "t2", "type": "quantitative"}, "y": {"field": "v2", "type": "quantitative"}}},
{"data": {"name": "notes"}, "mark": {"type": "text", "align": "left", "baseline": "middle", "fontSize": 15, "font": "DejaVu Sans", "color": "#222"},
 "encoding": {"text": {"field": "label"}}}
]
}
